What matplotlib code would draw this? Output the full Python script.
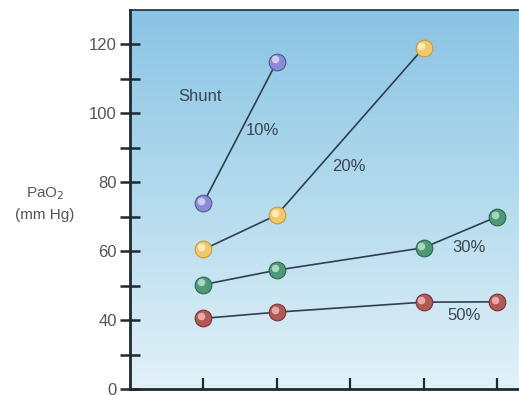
import numpy as np
import matplotlib
matplotlib.use("Agg")
import matplotlib.pyplot as plt
import matplotlib.transforms as mtransforms
from matplotlib.colors import LinearSegmentedColormap

plt.rcParams['font.family'] = ['Liberation Sans', 'DejaVu Sans']

# Shunt fraction series: positions on the x axis and PaO2 (mm Hg)
shunt_labels = ["10%", "20%", "30%", "50%"]
x_10 = [1, 2]
pao2_10 = [74, 115]
x_20 = [1, 2, 4]
pao2_20 = [60.5, 70.5, 119]
x_30 = [1, 2, 4, 5]
pao2_30 = [50.3, 54.5, 61, 70]
x_50 = [1, 2, 4, 5]
pao2_50 = [40.5, 42.3, 45.2, 45.3]

x_tick_positions = [1, 2, 3, 4, 5]
y_major = [20, 40, 60, 80, 100, 120]
y_major_labels = ["0", "40", "60", "80", "100", "120"]
y_minor = [30, 50, 70, 90, 110]

series = [
    (x_10, pao2_10, "#8c8cd6", "#d8d8f6", "#55559a"),
    (x_20, pao2_20, "#f2c86a", "#fff2c8", "#c89a3a"),
    (x_30, pao2_30, "#4e9878", "#b8e0cc", "#2e6650"),
    (x_50, pao2_50, "#b35858", "#f0b8b8", "#7a3434"),
]

fig = plt.figure(figsize=(5.19, 3.95), dpi=100)
ax = fig.add_axes([130 / 519, 6 / 395, 389 / 519, 379 / 395])
ax.set_xlim(0, 5.3)
ax.set_ylim(20, 130)

# Vertical blue gradient background
cmap = LinearSegmentedColormap.from_list("bg", ["#e2f1f8", "#b4dbee", "#8ac4e4"])
grad = np.linspace(0, 1, 256).reshape(-1, 1)
ax.imshow(grad, cmap=cmap, aspect="auto", origin="lower",
          extent=[0, 5.3, 20, 130], zorder=0, interpolation="bilinear")

line_color = "#2f3f4f"
hl_offset = mtransforms.ScaledTranslation(-1.6 / 72, 1.6 / 72, fig.dpi_scale_trans)
for xs, ys, base, light, edge in series:
    ax.plot(xs, ys, color=line_color, lw=1.2, zorder=2)
    ax.plot(xs, ys, ls="none", marker="o", ms=12, mfc=base, mec=edge,
            mew=0.8, zorder=3)
    ax.plot(xs, ys, ls="none", marker="o", ms=5.5, mfc=light, mec="none",
            alpha=0.85, zorder=4, transform=ax.transData + hl_offset)

text_color = "#3a4650"
ax.text(0.95, 104.8, "Shunt", fontsize=12, color=text_color, ha="center", va="center")
ax.text(1.81, 94.9, shunt_labels[0], fontsize=12, color=text_color, ha="center", va="center")
ax.text(2.98, 84.7, shunt_labels[1], fontsize=12, color=text_color, ha="center", va="center")
ax.text(4.62, 61.2, shunt_labels[2], fontsize=12, color=text_color, ha="center", va="center")
ax.text(4.55, 41.2, shunt_labels[3], fontsize=12, color=text_color, ha="center", va="center")

# Axes styling
ax.spines["right"].set_visible(False)
ax.spines["left"].set_linewidth(2.0)
ax.spines["bottom"].set_linewidth(2.0)
ax.spines["top"].set_linewidth(1.2)
for s in ("left", "bottom", "top"):
    ax.spines[s].set_color("#1e2a33")

ax.set_xticks(x_tick_positions)
ax.set_xticklabels([])
ax.tick_params(axis="x", direction="in", length=8, width=1.6, color="#1e2a33")

ax.set_yticks(y_major)
ax.set_yticklabels(y_major_labels)
ax.set_yticks(y_minor, minor=True)
ax.tick_params(axis="y", which="both", direction="inout", length=15, width=1.8,
               color="#1e2a33", labelsize=12, labelcolor="#555555", pad=2)

fig.text(45 / 519, 1 - 194 / 395, "PaO$_2$", fontsize=11, color="#555555",
         ha="center", va="center")
fig.text(45 / 519, 1 - 215 / 395, "(mm Hg)", fontsize=11, color="#555555",
         ha="center", va="center")

fig.savefig("out.png", dpi=100)
